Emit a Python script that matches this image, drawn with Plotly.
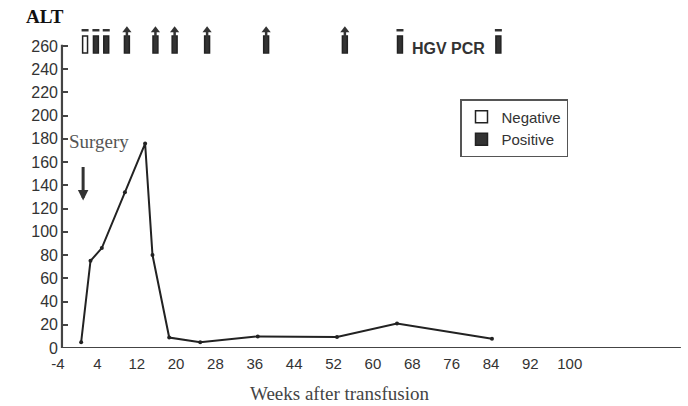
import plotly.graph_objects as go

# ALT series (weeks after transfusion, ALT value)
weeks = [0.7, 2.6, 4.9, 9.6, 13.7, 15.2, 18.6, 24.9, 36.6, 52.7, 64.9, 84.2]
alt = [5, 75, 86, 134, 176, 80, 9, 5, 10, 9.5, 21, 8]

# HGV PCR sampling markers
pcr_weeks = [1.5, 3.7, 5.8, 10.0, 15.8, 19.7, 26.3, 38.3, 54.3, 65.5, 85.5]
pcr_result = ["Negative", "Positive", "Positive", "Positive", "Positive", "Positive",
              "Positive", "Positive", "Positive", "Positive", "Positive"]
pcr_top = ["dash", "dash", "dash", "arrow", "arrow", "arrow", "arrow", "arrow", "arrow",
           "dash", "dash"]

x_ticks = [-4, 4, 12, 20, 28, 36, 44, 52, 60, 68, 76, 84, 92, 100]
y_ticks = list(range(0, 261, 20))

surgery_week = 1.1

BAR_BASE = 254
BAR_H = 14.5

# plot-area geometry (pixels)
L, R, T, B = 55, 7, 25, 58
W, H = 688, 406
PW, PH = W - L - R, H - T - B


def px_x(px):
    return (px - L) / PW


def px_y(py):
    return (H - B - py) / PH


fig = go.Figure()

# PCR bars
for res, fill in [("Negative", "white"), ("Positive", "#333333")]:
    xs = [w for w, r in zip(pcr_weeks, pcr_result) if r == res]
    fig.add_trace(go.Bar(
        x=xs, y=[BAR_H] * len(xs), base=[BAR_BASE] * len(xs), width=1.0,
        name=res, marker=dict(color=fill, line=dict(color="#222", width=1.5)),
        hoverinfo="skip", showlegend=True))

# tops of the markers
dx = [w for w, t in zip(pcr_weeks, pcr_top) if t == "dash"]
ax_ = [w for w, t in zip(pcr_weeks, pcr_top) if t == "arrow"]
fig.add_trace(go.Scatter(x=dx, y=[273.5] * len(dx), mode="markers", showlegend=False,
                         marker=dict(symbol="line-ew", size=5, line=dict(color="#333", width=2.5))))
fig.add_trace(go.Scatter(x=ax_, y=[273.5] * len(ax_), mode="markers", showlegend=False,
                         marker=dict(symbol="triangle-up", size=8, color="#333")))
fig.add_trace(go.Scatter(x=ax_, y=[270] * len(ax_), mode="markers", showlegend=False,
                         marker=dict(symbol="line-ns", size=5, line=dict(color="#333", width=2.5))))

# ALT line
fig.add_trace(go.Scatter(x=weeks, y=alt, mode="lines+markers", showlegend=False,
                         line=dict(color="#222", width=2),
                         marker=dict(size=4, color="#222")))

# axis lines
fig.add_shape(type="line", x0=-3.2, x1=122.6, y0=0, y1=0, xref="x", yref="y",
              line=dict(color="#444", width=2.2))
fig.add_shape(type="line", x0=-3.2, x1=-3.2, y0=0, y1=261, xref="x", yref="y",
              line=dict(color="#444", width=2.2))

# Surgery arrow and label
fig.add_annotation(x=surgery_week, y=127, ax=surgery_week, ay=157, xref="x", yref="y",
                   axref="x", ayref="y", showarrow=True, arrowhead=2, arrowsize=0.7,
                   arrowwidth=3, arrowcolor="#333", text="")
fig.add_annotation(x=4.3, y=177.5, xref="x", yref="y", text="Surgery", showarrow=False,
                   font=dict(family="Liberation Serif", size=19, color="#555"))
fig.add_annotation(x=75.4, y=257.5, xref="x", yref="y", text="<b>HGV PCR</b>", showarrow=False,
                   font=dict(family="Liberation Sans", size=16, color="#333"))
fig.add_annotation(x=px_x(24), y=px_y(17), xref="paper", yref="paper", text="<b>ALT</b>",
                   showarrow=False, xanchor="left", yanchor="middle",
                   font=dict(family="Liberation Serif", size=19, color="#111"))
fig.add_annotation(x=px_x(339), y=px_y(393), xref="paper", yref="paper",
                   text="Weeks after transfusion", showarrow=False, yanchor="middle",
                   font=dict(family="Liberation Serif", size=19, color="#444"))

fig.update_layout(
    width=W, height=H,
    margin=dict(l=L, r=R, t=T, b=B),
    paper_bgcolor="white", plot_bgcolor="white",
    barmode="overlay",
    xaxis=dict(range=[-4.614, 122.62], tickvals=x_ticks, ticktext=[str(v) for v in x_ticks],
               showgrid=False, zeroline=False, showline=False, ticks="", ticklabelstandoff=5,
               tickfont=dict(family="Liberation Sans", size=15, color="#333")),
    yaxis=dict(range=[0, 278], tickvals=y_ticks, showgrid=False, zeroline=False,
               showline=False, ticks="inside", ticklen=5, tickcolor="#444", tickwidth=1.5,
               anchor="free", position=7 / PW, ticklabelstandoff=4,
               tickfont=dict(family="Liberation Sans", size=16, color="#333")),
    legend=dict(x=px_x(460), y=px_y(99), xanchor="left", yanchor="top",
                bordercolor="#555", borderwidth=1.5, bgcolor="white",
                font=dict(family="Liberation Sans", size=15, color="#333"),
                tracegroupgap=2, itemwidth=30),
    font=dict(family="Liberation Sans"),
)

fig.write_html("out.html", config={"displayModeBar": False},
               post_script="document.body.style.margin='0';")
